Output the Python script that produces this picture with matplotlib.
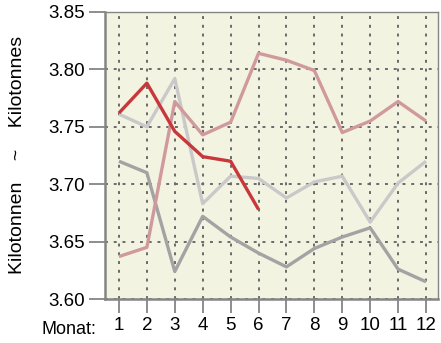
import matplotlib
matplotlib.use("Agg")
import matplotlib.pyplot as plt

# --- data ---
months = [1, 2, 3, 4, 5, 6, 7, 8, 9, 10, 11, 12]

light_gray = [3.761, 3.750, 3.792, 3.683, 3.707, 3.705,
              3.688, 3.702, 3.707, 3.667, 3.701, 3.720]
dark_gray = [3.720, 3.710, 3.624, 3.672, 3.654, 3.640,
             3.628, 3.644, 3.654, 3.662, 3.626, 3.615]
rose = [3.637, 3.645, 3.772, 3.743, 3.754, 3.814,
        3.808, 3.799, 3.745, 3.755, 3.772, 3.755]
current = [3.762, 3.788, 3.746, 3.724, 3.720, 3.678]

y_ticks = [3.60, 3.65, 3.70, 3.75, 3.80, 3.85]

plt.rcParams["font.family"] = ["Liberation Sans", "DejaVu Sans"]

fig = plt.figure(figsize=(4.41, 3.43), dpi=100)
ax = fig.add_axes([105 / 441, 1 - 299 / 343, 333 / 441, 287 / 343])
ax.set_facecolor("#f3f3e2")

frame = "#858585"
ax.plot(months, light_gray, color="#c9c9c9", lw=2.4, solid_capstyle="butt", zorder=3)
ax.plot(months, dark_gray, color="#a3a3a3", lw=2.4, solid_capstyle="butt", zorder=3)
ax.plot(months, rose, color="#d09a9c", lw=2.4, solid_capstyle="butt", zorder=4)
ax.plot(months[:len(current)], current, color="#c8373b", lw=2.4,
        solid_capstyle="butt", zorder=5)

ax.set_xlim(0.5, 12.43)
ax.set_ylim(3.60, 3.85)
ax.set_xticks(months)
ax.set_yticks(y_ticks)
ax.set_yticklabels([f"{v:.2f}" for v in y_ticks])

ax.grid(True, color="#6a6a6a", linestyle=(0, (1.5, 3)), lw=1.4, zorder=1)
ax.set_axisbelow(True)

for side in ["left", "bottom"]:
    ax.spines[side].set_linewidth(1.8)
    ax.spines[side].set_color(frame)
for side in ["top", "right"]:
    ax.spines[side].set_linewidth(1.0)
    ax.spines[side].set_color(frame)

ax.tick_params(axis="x", length=10, width=1.3, color=frame, labelsize=13.5, pad=3)
ax.tick_params(axis="y", length=11.5, width=1.3, color=frame, labelsize=13.5, pad=3)

# y label placed directly so the wide gaps around the tilde fit
fig.text(18 / 441, 1 - 155 / 343, "Kilotonnen    ~    Kilotonnes", fontsize=14,
         rotation=90, ha="center", va="center")
fig.text(96 / 441, 1 - 329 / 343, "Monat:", fontsize=13, ha="right", va="center")

fig.savefig("out.png", dpi=100)
